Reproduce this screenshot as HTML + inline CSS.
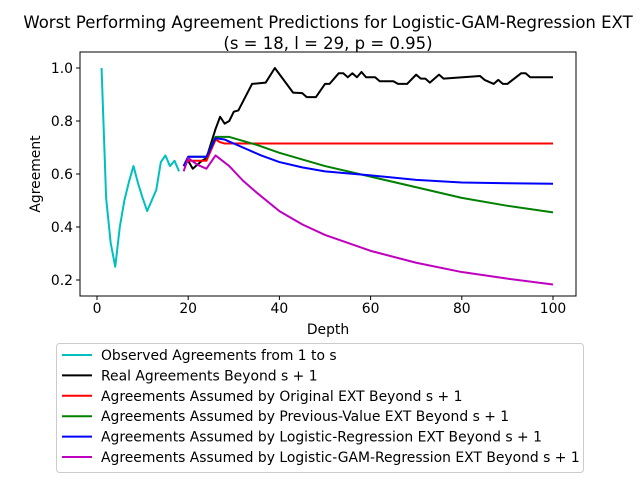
<!DOCTYPE html>
<html><head><meta charset="utf-8"><style>
body{margin:0;background:#fff}
svg{font-family:"DejaVu Sans","Liberation Sans",sans-serif}
</style></head><body>
<svg id="c" width="640" height="480" xmlns="http://www.w3.org/2000/svg">
<rect width="640" height="480" fill="#fff"/>
<text x="328" y="28" text-anchor="middle" font-size="16.5">Worst Performing Agreement Predictions for Logistic-GAM-Regression EXT</text>
<text x="328" y="49" text-anchor="middle" font-size="16.5">(s = 18, l = 29, p = 0.95)</text>
<g id="plot"></g>
<text x="328" y="334" text-anchor="middle" font-size="13.9">Depth</text>
<text transform="translate(40,174) rotate(-90)" text-anchor="middle" font-size="13.9">Agreement</text>
<g id="legend"></g>
</svg>
<script>
const obsX=[1,2,3,4,5,6,7,8,9,10,11,12,13,14,15,16,17,18];
const obsY=[1.0,0.51,0.34,0.25,0.40,0.50,0.57,0.63,0.565,0.51,0.46,0.50,0.54,0.645,0.67,0.63,0.65,0.61];
const realX=[19,20,21,22,23,24,26,27,28,29,30,31,34,37,39,43,45,46,48,50,51,53,54,55,56,57,58,59,61,62,65,66,68,70,71,72,73,75,76,84,85,87,88,89,90,93,94,95,100];
const realY=[0.63,0.65,0.62,0.635,0.65,0.66,0.77,0.816,0.79,0.80,0.835,0.84,0.94,0.945,1.0,0.907,0.905,0.89,0.89,0.94,0.94,0.98,0.98,0.965,0.98,0.965,0.985,0.965,0.965,0.95,0.95,0.94,0.94,0.975,0.96,0.96,0.945,0.975,0.96,0.97,0.955,0.94,0.955,0.94,0.94,0.98,0.98,0.965,0.965];
const origX=[19,20,24,26,27,28,100];
const origY=[0.63,0.65,0.65,0.73,0.72,0.715,0.715];
const prevX=[19,20,24,26,29,35,40,50,60,70,80,90,100];
const prevY=[0.63,0.665,0.665,0.74,0.74,0.71,0.68,0.63,0.59,0.55,0.51,0.48,0.455];
const logX=[19,20,24,26,28,32,36,40,45,50,60,70,80,90,100];
const logY=[0.63,0.665,0.665,0.735,0.73,0.70,0.67,0.645,0.625,0.61,0.595,0.578,0.568,0.565,0.563];
const gamX=[19,20,22,24,26,29,32,35,40,45,50,60,70,80,90,100];
const gamY=[0.61,0.66,0.635,0.62,0.67,0.63,0.575,0.53,0.46,0.41,0.37,0.31,0.265,0.23,0.205,0.183];
const xTicks=[0,20,40,60,80,100];
const yTicks=[0.2,0.4,0.6,0.8,1.0];
const legendLabels=["Observed Agreements from 1 to s","Real Agreements Beyond s + 1","Agreements Assumed by Original EXT Beyond s + 1","Agreements Assumed by Previous-Value EXT Beyond s + 1","Agreements Assumed by Logistic-Regression EXT Beyond s + 1","Agreements Assumed by Logistic-GAM-Regression EXT Beyond s + 1"];
const colors=["#00bfbf","#000000","#ff0000","#008000","#0000ff","#bf00bf"];
const NS="http://www.w3.org/2000/svg";
const L=80,R=576,T=52,B=296;
const sx=d=>97+(d-0)*(553-97)/100;
const sy=v=>68+(1.0-v)*(280-68)/0.8;
const plot=document.getElementById('plot');
function mk(t,a,p){const e=document.createElementNS(NS,t);for(const k in a)e.setAttribute(k,a[k]);(p||plot).appendChild(e);return e;}
xTicks.forEach(t=>{
 const l=mk('line',{x1:sx(t),x2:sx(t),y1:B,y2:B+4,stroke:'#000'});
 
 
 const tx=mk('text',{x:sx(t),y:B+17,'text-anchor':'middle','font-size':'13.9'});tx.textContent=t;
 
 
});
yTicks.forEach(t=>{
 const l=mk('line',{x1:L-4,x2:L,y1:sy(t),y2:sy(t),stroke:'#000'});
 
 
 const tx=mk('text',{x:L-7,y:sy(t)+5,'text-anchor':'end','font-size':'13.9'});tx.textContent=t.toFixed(1);
 
 
});
const series=[[obsX,obsY,'observed-line'],[realX,realY,'real-line'],[origX,origY,'original-ext-line'],[prevX,prevY,'previous-value-ext-line'],[logX,logY,'logistic-ext-line'],[gamX,gamY,'logistic-gam-ext-line']];
series.forEach((s,i)=>{
 const pts=s[0].map((x,j)=>sx(x)+','+sy(s[1][j])).join(' ');
 const p=mk('polyline',{points:pts,fill:'none',stroke:colors[i],'stroke-width':'2','stroke-linejoin':'round'});
 
 
});
const fr=mk('rect',{x:L,y:T,width:R-L,height:B-T,fill:'none',stroke:'#000','stroke-width':'1'});


const lg=document.getElementById('legend');
const box=mk('rect',{x:56.5,y:343.5,width:527,height:129,fill:'#fff',stroke:'#ccc',rx:3},lg);


legendLabels.forEach((t,i)=>{
 const y=355+i*20.4;
 const g=mk('g',{},lg);
 
 
 mk('line',{x1:62,x2:92,y1:y,y2:y,stroke:colors[i],'stroke-width':'2'},g);
 const tx=mk('text',{x:101,y:y+5,'font-size':'13.9'},g);tx.textContent=t;
});
</script>
</body></html>
